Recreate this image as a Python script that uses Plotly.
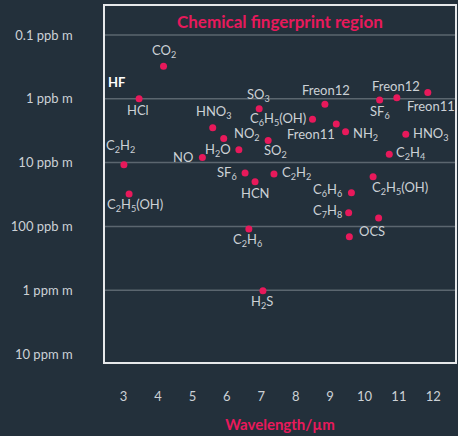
import numpy as np
import plotly.graph_objects as go

# ---------------- data ----------------
gases = ["CO<sub>2</sub>", "HCl", "C<sub>2</sub>H<sub>2</sub>", "C<sub>2</sub>H<sub>5</sub>(OH)",
         "HNO<sub>3</sub>", "NO<sub>2</sub>", "NO", "H<sub>2</sub>O", "SO<sub>3</sub>", "SO<sub>2</sub>",
         "C<sub>6</sub>H<sub>5</sub>(OH)", "Freon12", "Freon11", "NH<sub>2</sub>", "SF<sub>6</sub>",
         "Freon12", "Freon11", "HNO<sub>3</sub>", "C<sub>2</sub>H<sub>4</sub>", "SF<sub>6</sub>", "HCN",
         "C<sub>2</sub>H<sub>2</sub>", "C<sub>6</sub>H<sub>6</sub>", "C<sub>2</sub>H<sub>5</sub>(OH)",
         "C<sub>7</sub>H<sub>8</sub>", "", "OCS", "C<sub>2</sub>H<sub>6</sub>", "H<sub>2</sub>S"]
wavelength_um = [4.16, 3.45, 3.01, 3.16, 5.59, 5.91, 5.29, 6.35, 6.94, 7.20,
                 8.49, 8.85, 9.18, 9.45, 10.44, 10.94, 11.84, 11.20, 10.72, 6.53, 6.82,
                 7.37, 9.62, 10.25, 9.54, 10.41, 9.56, 6.64, 7.05]
detection_ppb_m = [0.31, 1.0, 10.8, 31.0, 2.84, 4.2, 8.3, 6.3, 1.43, 4.5,
                   2.1, 1.22, 2.48, 3.27, 1.04, 0.96, 0.80, 3.6, 7.4, 14.5, 19.9,
                   15.1, 29.6, 16.6, 61.0, 74.0, 145.0, 110.0, 1023.0]
extra_label = "HF"
extra_wavelength_um = 2.80
extra_ppb_m = 0.55

y_tick_vals = [0.1, 1, 10, 100, 1000, 10000]
y_tick_text = ["0.1 ppb m", "1 ppb m", "10 ppb m", "100 ppb m", "1 ppm m", "10 ppm m"]
x_tick_vals = [3, 4, 5, 6, 7, 8, 9, 10, 11, 12]
title_text = "Chemical fingerprint region"
x_title = "Wavelength/µm"

# ---------------- styles ----------------
BG = "#23303b"
PINK = "#e8195b"
TXT = "#ccd1d6"
GRID = "#5b666f"
FONT = "Lato, Open Sans, sans-serif"
LSIZE = 13

# label placement: (xanchor, xshift, dy) dy in px downward
label_pos = [("center", 0, -15), ("center", -1, 11), ("center", -3, -19), ("center", 6, 11),
             ("center", 1, -16), ("left", 8, -5), ("right", -7, 0), ("right", -6, 0),
             ("center", -1, -14), ("center", 7, 11),
             ("right", -5, 0), ("center", 1, -14), ("right", 1, 10), ("left", 5, 2),
             ("center", 0, 12),
             ("center", -1, -12), ("center", 3, 13), ("left", 5, 0), ("left", 5, -1),
             ("right", -6, 0), ("center", 0, 11),
             ("left", 6, -1), ("right", -7, -3), ("left", -3, 11),
             ("right", -5, -2), ("center", 0, 0), ("left", 8, -6), ("center", -1, 11),
             ("center", -1, 11)]

fig = go.Figure()
fig.add_trace(go.Scatter(
    x=wavelength_um, y=detection_ppb_m, mode="markers",
    marker=dict(color=PINK, size=7, line=dict(width=0)),
    hoverinfo="skip", showlegend=False,
))

for name, wl, c, (xa, xs, dy) in zip(gases, wavelength_um, detection_ppb_m, label_pos):
    if not name:
        continue
    fig.add_annotation(
        x=wl, y=np.log10(c), text=name, showarrow=False,
        xanchor=xa, yanchor="middle", xshift=xs, yshift=-dy,
        font=dict(family=FONT, size=LSIZE, color=TXT),
    )

fig.add_annotation(
    x=extra_wavelength_um, y=np.log10(extra_ppb_m), text="<b>" + extra_label + "</b>",
    showarrow=False, xanchor="center", yanchor="middle",
    font=dict(family=FONT, size=13, color="#ffffff"),
)

# gridlines for all but the bottom boundary tick
for v in y_tick_vals[:-1]:
    fig.add_shape(type="line", xref="x domain", x0=0, x1=1, yref="y", y0=v, y1=v,
                  line=dict(color=GRID, width=1.5), layer="below")

fig.add_annotation(
    xref="paper", yref="paper", x=0.5, y=1, yanchor="top", yshift=-3,
    text="<b>" + title_text + "</b>", showarrow=False,
    font=dict(family=FONT, size=17, color=PINK),
)

fig.update_layout(
    width=458, height=436,
    paper_bgcolor=BG, plot_bgcolor=BG,
    margin=dict(l=105, r=1, t=6, b=74),
    font=dict(family=FONT, size=LSIZE, color=TXT),
    xaxis=dict(
        range=[2.46, 12.63], tickvals=x_tick_vals, showgrid=False, zeroline=False,
        showline=True, mirror=True, linecolor="#e6e8ea", linewidth=1.5,
        ticks="", ticklabelstandoff=22,
        tickfont=dict(family=FONT, size=LSIZE, color=TXT),
        title=dict(text="<b>" + x_title + "</b>", font=dict(family=FONT, size=15, color=PINK), standoff=16),
    ),
    yaxis=dict(
        type="log", range=[4.125, -1.4545], tickvals=y_tick_vals, ticktext=y_tick_text,
        showgrid=False, zeroline=False,
        showline=True, mirror=True, linecolor="#e6e8ea", linewidth=1.5,
        ticks="", ticklabelstandoff=28,
        tickfont=dict(family=FONT, size=LSIZE, color=TXT),
    ),
)

fig.write_html("out.html", config={"displayModeBar": False},
               post_script="document.body.style.margin='0';document.body.style.background='" + BG + "';")
